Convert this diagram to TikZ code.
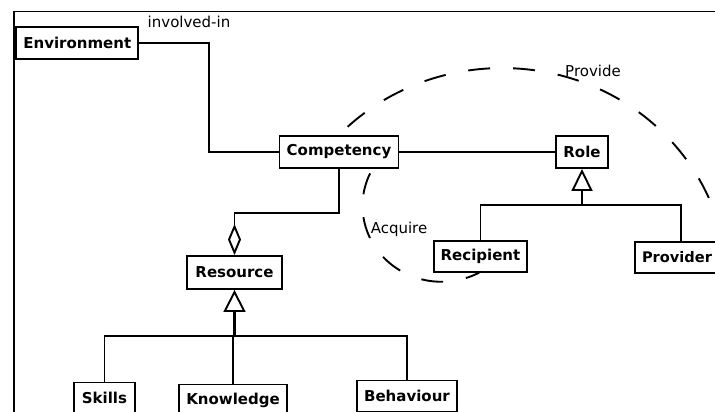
\documentclass[tikz,border=0pt]{standalone}
\usepackage{fontspec}
\setmainfont{DejaVu Sans}
\usetikzlibrary{arrows.meta,calc}
\tikzset{
  cls/.style={draw, line width=1.9pt, fill=white, font=\fontsize{15pt}{17pt}\selectfont\bfseries,
    inner xsep=2pt, inner ysep=0pt, minimum height=31pt},
  conn/.style={line width=1.9pt},
  dashconn/.style={line width=1.9pt, dash pattern=on 22pt off 23pt},
  lbl/.style={font=\fontsize{15pt}{17pt}\selectfont, inner sep=0pt},
  gen/.style={-{Triangle[open, length=22pt, width=21pt, line width=1.9pt]}},
}
\begin{document}
\begin{tikzpicture}[x=1pt, y=-1pt]
\useasboundingbox (0,0) rectangle (715,412);
% frame
\draw[line width=1.9pt] (716,11.5) -- (14,11.5) -- (14,414);
% nodes
\node[cls, minimum width=122pt, minimum height=32pt] (env) at (77.3,43) {Environment};
\node[cls, minimum width=119pt, minimum height=32pt] (comp) at (339,152) {Competency};
\node[cls, minimum width=52pt, minimum height=32pt] (role) at (582,152) {Role};
\node[cls, minimum width=93pt] (rec) at (480.5,256.5) {Recipient};
\node[cls, minimum width=84pt, font=\fontsize{14.6pt}{17pt}\selectfont\bfseries] (prov) at (677,257.5) {Provider};
\node[cls, minimum width=95pt, minimum height=33pt] (res) at (234.5,272.5) {Resource};
\node[cls, minimum width=61pt] (skills) at (104.5,398) {Skills};
\node[cls, minimum width=108pt] (know) at (233,400) {Knowledge};
\node[cls, minimum width=100pt] (beh) at (407,396) {Behaviour};
% labels
\node[lbl] (linv) at (189,22) {involved-in};
\node[lbl] (lprov) at (593,71) {Provide};
\node[lbl] (lacq) at (399,229) {Acquire};
% environment - competency
\coordinate (ej) at (209,100);
\draw[conn] (env.east) -| (ej) |- (comp.west);
% competency - role
\draw[conn] (comp.east) -- (role.west);
% competency - resource (aggregation)
\coordinate (cj) at ($(comp.south)+(0,44)$);
\draw[conn, {Diamond[open, length=31pt, width=13pt, line width=1.9pt]}-] (res.north) |- (cj) -- (comp.south);
% role generalisation
\coordinate (rj) at ($(role.south)+(0,36)$);
\draw[conn] (rec.north) |- (rj) -| ($(prov.north)+(4,0)$);
\draw[conn, gen] (rj) -- (role.south);
% resource generalisation
\coordinate (resj) at ($(res.south)+(0,46)$);
\draw[conn] (skills.north) |- (resj) -| (beh.north);
\draw[conn] (know.north) -- (know.north |- resj);
\draw[line width=2.8pt, -{Triangle[open, length=22pt, width=22pt, line width=1.9pt]}] (resj) -- (res.south);
% dashed arcs
\draw[dashconn, dash phase=33pt] (comp.north) arc[start angle=136.5, end angle=11.3, x radius=225pt, y radius=215pt];
\coordinate (acqs) at ($(comp.south east)+(-27,0)$);
\draw[dashconn, dash phase=40pt] (acqs) arc[start angle=151, end angle=300, x radius=79pt, y radius=76pt];
\end{tikzpicture}
\end{document}
